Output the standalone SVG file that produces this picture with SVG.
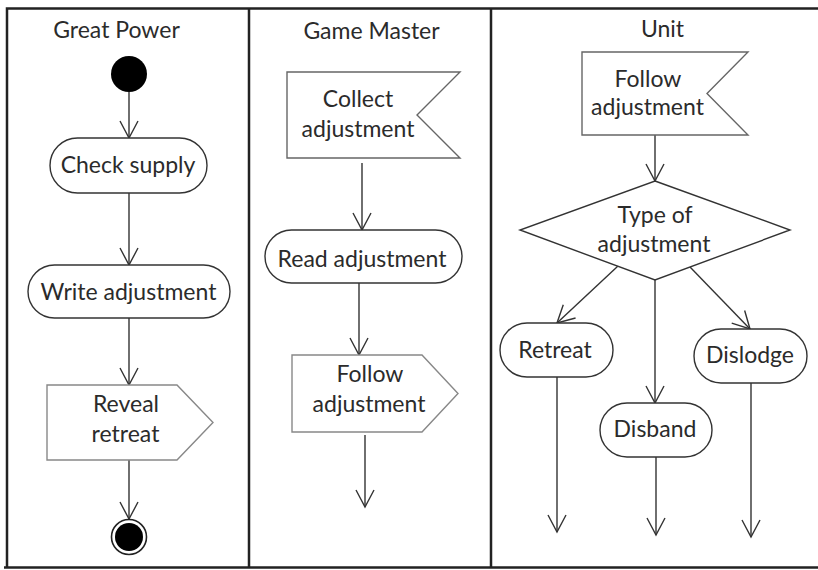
<svg xmlns="http://www.w3.org/2000/svg" width="818" height="570" viewBox="0 0 818 570">
  <style>
    .lbl { font-family: Lato, "Open Sans", "Liberation Sans", sans-serif; font-size: 23px; fill: #2b2b2b; text-anchor: middle; }
    .act { fill: #fff; stroke: #333; stroke-width: 1.4; }
    .sig { fill: #fff; stroke: #888; stroke-width: 1.4; }
    .evt { fill: #fff; stroke: #666; stroke-width: 1.4; }
    .frame { fill: none; stroke: #222; stroke-width: 2.5; }
    .flow { fill: none; stroke: #333; stroke-width: 1.4; marker-end: url(#open); }
  </style>
  <defs>
    <marker id="open" markerUnits="userSpaceOnUse" viewBox="-20 -12 24 24" markerWidth="24" markerHeight="24" refX="0" refY="0" orient="auto" overflow="visible">
      <path d="M-17,-9 L0,0 L-17,9" fill="none" stroke="#333" stroke-width="1.4"/>
    </marker>
  </defs>
  <rect width="818" height="570" fill="#fff"/>

  <!-- swimlane frame -->
  <g id="lanes">
    <path class="frame" d="M7,568 V8.5 H818"/>
    <path class="frame" d="M4,567.5 H818"/>
    <path class="frame" d="M249,8.5 V568"/>
    <path class="frame" d="M491,8.5 V568"/>
    <text class="lbl" x="116.5" y="38">Great Power</text>
    <text class="lbl" x="371.5" y="39">Game Master</text>
    <text class="lbl" x="662.5" y="37">Unit</text>
  </g>

  <!-- connectors -->
  <g id="connectors">
    <path class="flow" d="M129,92 V138"/>
    <path class="flow" d="M129,193 V265"/>
    <path class="flow" d="M129,318 V385"/>
    <path class="flow" d="M129,460 V519"/>
    <path class="flow" d="M362,163 V230"/>
    <path class="flow" d="M359,283 V355"/>
    <path class="flow" d="M365,435 V507"/>
    <path class="flow" d="M655,135 V181"/>
    <path class="flow" d="M618,266 L557,323"/>
    <path class="flow" d="M655,280 V403"/>
    <path class="flow" d="M690,267 L750,329"/>
    <path class="flow" d="M557,377 V532"/>
    <path class="flow" d="M656,457 V535"/>
    <path class="flow" d="M751,383 V537"/>
  </g>

  <!-- Great Power lane -->
  <g id="gp-start">
    <circle cx="129" cy="74" r="18" fill="#000"/>
  </g>
  <g id="gp-check-supply">
    <rect class="act" x="50" y="138" width="157" height="55" rx="27.5"/>
    <text class="lbl" x="128" y="173">Check supply</text>
  </g>
  <g id="gp-write-adjustment">
    <rect class="act" x="28" y="265" width="202" height="53" rx="26.5"/>
    <text class="lbl" x="128.5" y="300">Write adjustment</text>
  </g>
  <g id="gp-reveal-retreat">
    <path class="sig" d="M47,385 H177 L213,422.5 L177,460 H47 Z"/>
    <text class="lbl" x="126" y="412">Reveal</text>
    <text class="lbl" x="125.5" y="442">retreat</text>
  </g>
  <g id="gp-end">
    <circle cx="129" cy="537" r="17.5" fill="#fff" stroke="#222" stroke-width="1.6"/>
    <circle cx="129" cy="537" r="14" fill="#000"/>
  </g>

  <!-- Game Master lane -->
  <g id="gm-collect-adjustment">
    <path class="evt" d="M287,72 H460 L417,115 L460,158 H287 Z"/>
    <text class="lbl" x="358" y="107">Collect</text>
    <text class="lbl" x="358" y="137">adjustment</text>
  </g>
  <g id="gm-read-adjustment">
    <rect class="act" x="265" y="230" width="197" height="53" rx="26.5"/>
    <text class="lbl" x="362" y="267">Read adjustment</text>
  </g>
  <g id="gm-follow-adjustment">
    <path class="sig" d="M292,355 H422 L458,393.5 L422,432 H292 Z"/>
    <text class="lbl" x="370" y="382">Follow</text>
    <text class="lbl" x="369" y="412">adjustment</text>
  </g>

  <!-- Unit lane -->
  <g id="unit-follow-adjustment">
    <path class="evt" d="M582,52 H748 L707,93.5 L748,135 H582 Z"/>
    <text class="lbl" x="648" y="87">Follow</text>
    <text class="lbl" x="647.5" y="115">adjustment</text>
  </g>
  <g id="unit-type-decision">
    <path class="act" d="M655,181 L790,230 L655,280 L520,230 Z"/>
    <text class="lbl" x="655" y="223">Type of</text>
    <text class="lbl" x="654" y="252">adjustment</text>
  </g>
  <g id="unit-retreat">
    <rect class="act" x="500" y="323" width="113" height="54" rx="27"/>
    <text class="lbl" x="555" y="358">Retreat</text>
  </g>
  <g id="unit-disband">
    <rect class="act" x="600" y="403" width="112" height="54" rx="27"/>
    <text class="lbl" x="655" y="437">Disband</text>
  </g>
  <g id="unit-dislodge">
    <rect class="act" x="694" y="329" width="113" height="54" rx="27"/>
    <text class="lbl" x="750" y="363">Dislodge</text>
  </g>
</svg>
